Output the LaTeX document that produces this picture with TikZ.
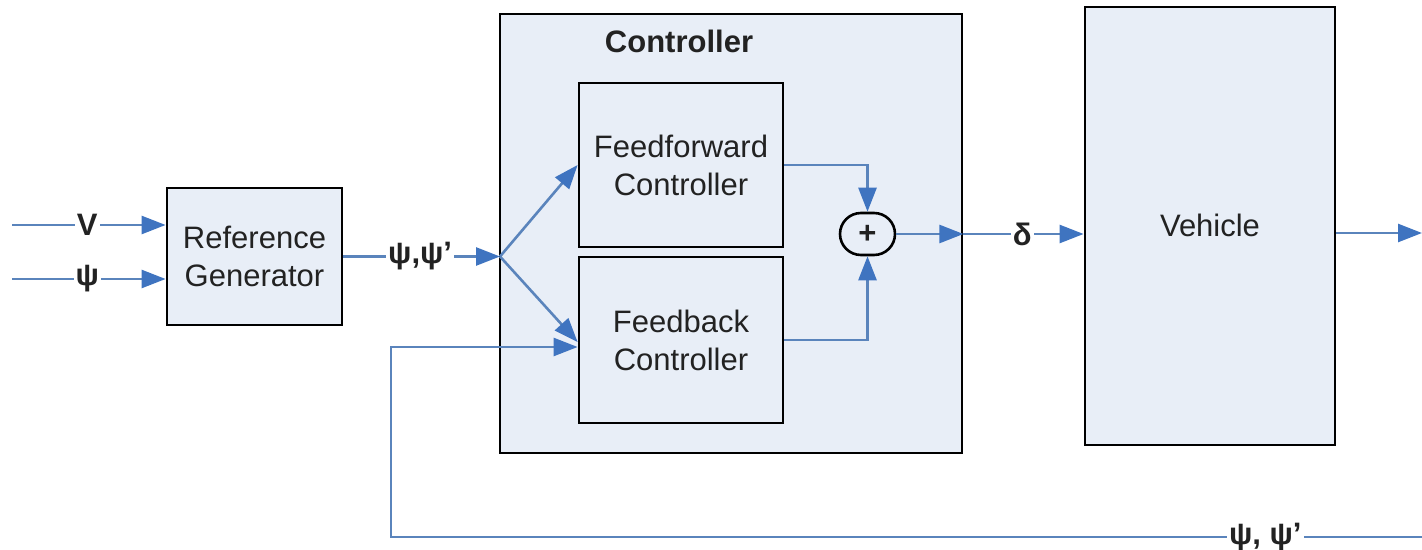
\documentclass[tikz,border=0pt]{standalone}
\usepackage{fontspec}
\setmainfont{Liberation Sans}
\usetikzlibrary{arrows.meta}
\definecolor{boxfill}{HTML}{E8EEF7}
\definecolor{wire}{HTML}{5A84BC}
\definecolor{tipc}{HTML}{3F74C0}
\definecolor{txt}{HTML}{222222}
\begin{document}
\begin{tikzpicture}[x=0.5pt,y=-0.5pt,
  every node/.style={text=txt,font=\fontsize{15.5}{19}\selectfont},
  blk/.style={draw=black,line width=1.4pt,fill=boxfill,align=center,inner sep=0pt},
  wireline/.style={draw=wire,line width=1.3pt},
  arr/.style={wireline,-{Triangle[length=12pt,width=9pt,color=tipc]}},
  lbl/.style={fill=white,inner sep=1pt,font=\fontsize{15.5}{19}\selectfont\bfseries},
  lblb/.style={fill=boxfill,inner sep=1pt,font=\fontsize{15.5}{19}\selectfont\bfseries}]
\useasboundingbox (0,0) rectangle (1422,550);
% blocks
\node[blk,minimum width=87.5pt,minimum height=68.5pt] (refgen) at (254.5,256.5) {Reference\\Generator};
\node[blk,minimum width=231pt,minimum height=219.5pt] (ctrl) at (731,233.5) {};
\node[anchor=base,font=\fontsize{15.5}{19}\selectfont\bfseries] (ctrllbl) at (679,53) {Controller};
\node[blk,minimum width=102pt,minimum height=82pt] (ff) at (681,165) {Feedforward\\Controller};
\node[blk,minimum width=102pt,minimum height=83pt] (fb) at (681,340) {Feedback\\Controller};
\node[draw=black,line width=1.3pt,fill=boxfill,rounded corners=10.5pt,minimum width=27.5pt,minimum height=21pt,inner sep=0pt,font=\fontsize{15.5}{19}\selectfont\bfseries] (sum) at (867.5,234) {+};
\node[blk,minimum width=125pt,minimum height=219pt] (veh) at (1210,226) {};
\node (vehlbl) at (1210,225) {Vehicle};
% coordinates
\coordinate (vin) at (12,225);
\coordinate (psiin) at (12,279);
\coordinate (branch) at (500,256.5);
\coordinate (lr) at (1422,537);
\coordinate (ll) at (391,537);
\coordinate (lu) at (391,347);
\coordinate (vout) at (1422,233);
% inputs
\draw[arr] (vin) -- node[lbl,pos=0.49] {V} (vin -| refgen.west);
\draw[arr] (psiin) -- node[lbl,pos=0.49] {ψ} (psiin -| refgen.west);
\draw[arr] (refgen.east) -- node[lbl,pos=0.49] {ψ,ψ’} (branch);
\draw[arr] (branch) -- (ff.west);
\draw[arr] (branch) -- ([yshift=-1pt]fb.west);
% sum
\draw[arr] (ff.east) -- (ff.east -| sum.north) -- (sum.north);
\draw[arr] (fb.east) -- (fb.east -| sum.south) -- (sum.south);
\draw[arr] (sum.east) -- (sum.east -| ctrl.east);
\draw[arr] (sum.east -| ctrl.east) -- node[lbl,pos=0.49] {δ} (sum.east -| veh.west);
\draw[arr] (veh.east |- vout) -- (vout);
% feedback loop
\draw[arr] (lr) -- node[lbl,pos=0.152] {ψ, ψ’} (ll) -- (lu) -- (lu -| fb.west);
\end{tikzpicture}
\end{document}
